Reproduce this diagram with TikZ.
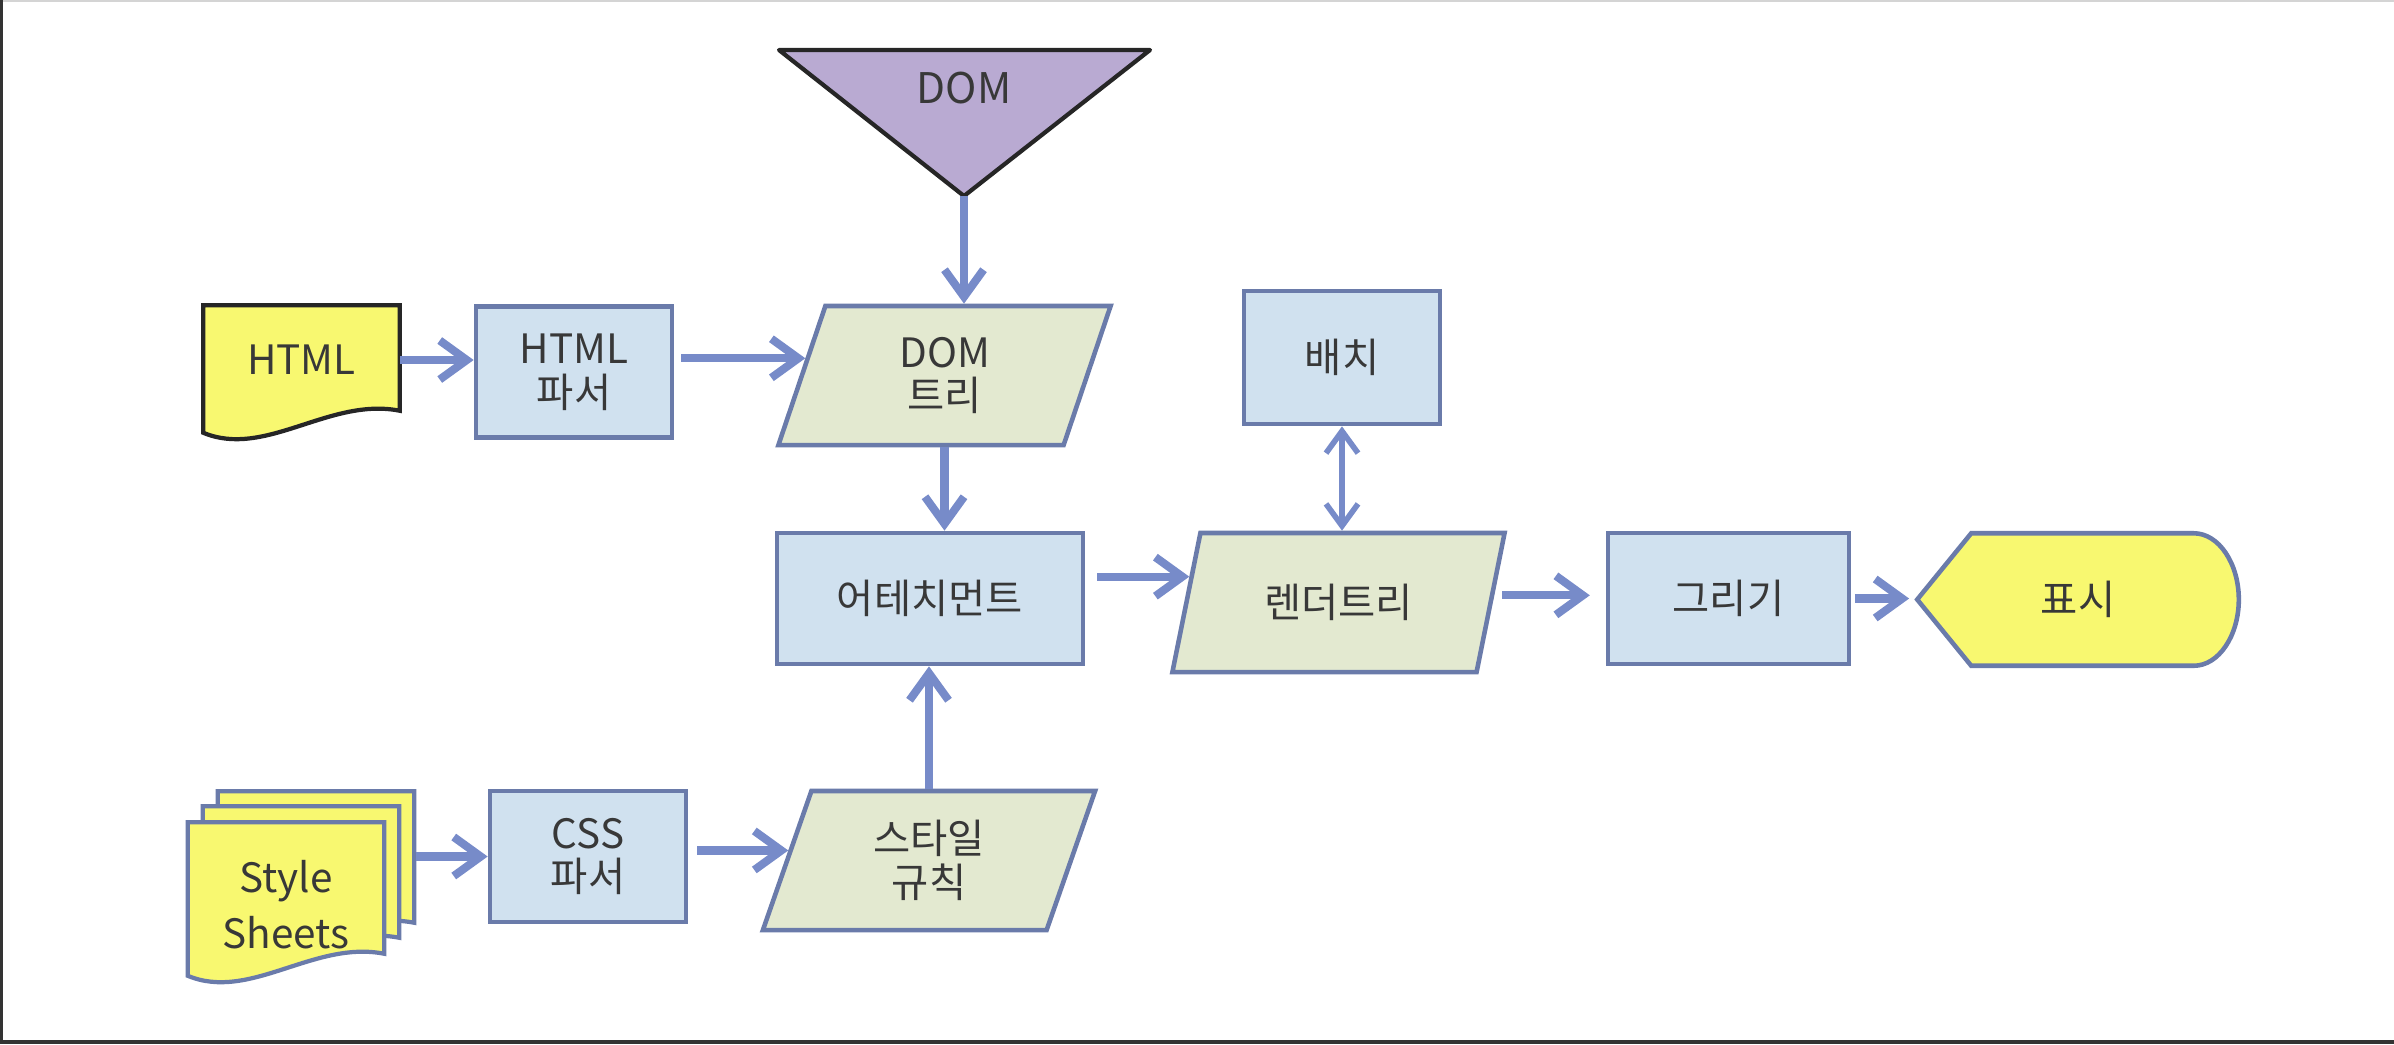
\documentclass[tikz,border=0pt]{standalone}
\usepackage{fontspec}
\setmainfont{Noto Sans CJK KR}
\usepackage{tikz}
\usetikzlibrary{shapes.geometric, positioning, arrows.meta, calc, backgrounds}

\definecolor{procFill}{HTML}{D0E1EF}
\definecolor{procBorder}{HTML}{6A7BAA}
\definecolor{dataFill}{HTML}{E3E9D0}
\definecolor{docFill}{HTML}{F8F870}
\definecolor{domFill}{HTML}{B9AAD2}
\definecolor{flowBlue}{HTML}{778BC9}
\definecolor{labelGray}{HTML}{383838}
\definecolor{frameDark}{HTML}{333333}
\definecolor{frameLight}{HTML}{D4D4D4}

% outline of a sheet with a wavy lower edge, around a text node
\newcommand{\docshape}[4][0]{%
	\path[#4] ($(#2.north west)+#3$) -- ($(#2.north east)+#3$)
		-- ($(#2.south east)+#3+(0,-4-#1)$)
		.. controls ($(#2.south east)+#3+(-70,-18-#1)$) and ($(#2.south west)+#3+(62,44-#1)$) .. ($(#2.south west)+#3+(0,18-#1)$)
		-- cycle;}

\tikzset{
	txt/.style={
		font=\fontsize{11.5}{12.5}\selectfont,
		text=labelGray,
		align=center},
	proc/.style={
		txt,
		rectangle,
		draw=procBorder,
		fill=procFill,
		line width=1.3pt,
		minimum width=1.96cm,
		minimum height=1.31cm},
	dataShape/.style={
		txt,
		trapezium,
		trapezium left angle=65,
		trapezium right angle=115,
		trapezium stretches body,
		draw=procBorder,
		fill=dataFill,
		line width=1.3pt,
		minimum width=3.32cm,
		minimum height=1.39cm},
	docText/.style={
		txt,
		minimum width=1.95cm,
		inner sep=0pt},
	docOutline/.style={
		draw=#1,
		fill=docFill,
		line width=1.2pt},
	flow/.style={
		draw=flowBlue,
		line width=2.3pt,
		-{Straight Barb[length=2.7mm, width=3.9mm]}},
	flowBoth/.style={
		draw=flowBlue,
		line width=1.6pt,
		{Straight Barb[length=2.2mm, width=3.2mm]}-{Straight Barb[length=2.2mm, width=3.2mm]}},
}

\begin{document}
\begin{tikzpicture}[x=0.01cm, y=-0.01cm]
	\useasboundingbox (0,0) rectangle (2394,1044);
	% screen frame
	\fill[frameLight] (0,0) rectangle (2394,2);
	\fill[frameDark] (0,0) rectangle (3,1044);
	\fill[frameDark] (0,1040) rectangle (2394,1044);

	% DOM source
	\node [txt, font=\fontsize{12}{13}\selectfont] (dom) at (964,88) {DOM};
	\coordinate (domTip) at (964,196);

	% html input
	\node [docText, minimum height=1.08cm] (html) at (301.5,360) {HTML};
	\node [proc] (htmlParser) at (574,372) {HTML\\파서};
	\node [dataShape] (domTree) at (944.5,375.5) {DOM\\트리};

	% style input
	\node [docText, minimum height=1.64cm, font=\fontsize{11.5}{16}\selectfont] (sheets) at (286,905) {Style\\Sheets};
	\node [proc] (cssParser) at (588,856.5) {CSS\\파서};
	\node [dataShape] (styleRules) at (929,860.5) {스타일\\규칙};

	% render pipeline
	\node [proc, minimum width=3.06cm] (attach) at (930,598.5) {어테치먼트};
	\node [dataShape] (renderTree) at (1338.5,602.5) {렌더트리};
	\node [proc, minimum height=1.33cm] (layout) at (1342,357.5) {배치};
	\node [proc, minimum width=2.41cm] (paint) at (1728.5,598.5) {그리기};
	\node [txt, minimum width=3.2cm, minimum height=1.31cm, inner sep=0pt] (display) at (2078,599.5) {표시};

	% points where the arrows meet the slanted sides
	\coordinate (domIn) at ($(domTree.top left corner)!0.38!(domTree.bottom left corner)$);
	\coordinate (styleIn) at ($(styleRules.top left corner)!0.43!(styleRules.bottom left corner)$);
	\coordinate (renderIn) at ($(renderTree.top left corner)!0.32!(renderTree.bottom left corner)$);
	\coordinate (renderOut) at ($(renderTree.top right corner)!0.45!(renderTree.bottom right corner)$);

	% outlines behind the texts
	\begin{scope}[on background layer]
		\path[draw=black!85, fill=domFill, line width=1.2pt, line join=round] ($(dom)+(-185,-38)$) -- ($(dom)+(186,-38)$) -- (domTip) -- cycle;
		\docshape{html}{(0,0)}{docOutline=black!85}
		\docshape[30]{sheets}{(30,-31)}{docOutline=procBorder}
		\docshape[30]{sheets}{(15,-16)}{docOutline=procBorder}
		\docshape[30]{sheets}{(0,0)}{docOutline=procBorder}
		\path[draw=procBorder, fill=docFill, line width=1.3pt] (display.west) -- ($(display.north west)+(54,0)$) -- ($(display.north east)+(-45,0)$)
			.. controls ($(display.north east)+(-20,0)$) and ($(display.east)+(0,-36)$) .. (display.east)
			.. controls ($(display.east)+(0,36)$) and ($(display.south east)+(-20,0)$) .. ($(display.south east)+(-45,0)$)
			-- ($(display.south west)+(54,0)$) -- cycle;
	\end{scope}

	% html to DOM tree
	\draw [flow] (domTip) -- (domTip |- domTree.north);
	\draw [flow] (html.east) -- (htmlParser.west |- html.east);
	\draw [flow, shorten <=2pt] (htmlParser.east |- domIn) -- (domIn);

	% style sheets to style rules
	\draw [flow] ($(sheets.east |- cssParser.west)+(32,0)$) -- (cssParser.west);
	\draw [flow, shorten <=2.5pt] (cssParser.east |- styleIn) -- (styleIn);

	% both trees into the attachment
	\draw [flow] (domTree.south) -- (domTree.south |- attach.north);
	\draw [flow] (styleRules.north) -- (styleRules.north |- attach.south);

	% render tree to display
	\draw [flow, shorten <=3.4pt] (attach.east |- renderIn) -- (renderIn);
	\draw [flowBoth] (layout.south) -- (layout.south |- renderTree.north);
	\draw [flow, shorten <=2.3pt, shorten >=4.5pt] (renderOut) -- (paint.west |- renderOut);
	\draw [flow, shorten <=1pt, shorten >=2.3pt] (paint.east) -- (display.west |- paint.east);
\end{tikzpicture}
\end{document}
